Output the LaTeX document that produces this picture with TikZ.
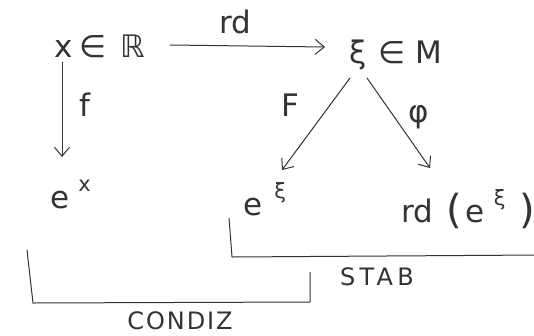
\documentclass[tikz,border=0pt]{standalone}
\usepackage{fontspec}
\setmainfont{DejaVu Sans}
\newfontfamily\stabfont[LetterSpace=18]{DejaVu Sans}
\newfontfamily\condfont[LetterSpace=8]{DejaVu Sans}
\usetikzlibrary{arrows.meta,calc}
\definecolor{pen}{HTML}{333333}
\newcommand{\supsc}[2]{\raisebox{#1}{\fontsize{21}{21}\selectfont #2}}
\newcommand{\bigpar}[1]{\raisebox{-1pt}{\fontsize{40}{40}\selectfont #1}}
\begin{document}
\begin{tikzpicture}[x=1pt,y=-1pt,
  pencil/.style={draw=pen, line width=1pt, line cap=round, line join=round},
  arr/.style={pencil, -{Straight Barb[length=9pt,width=15pt,line width=1pt]}},
  lbl/.style={font=\fontsize{31}{33}\selectfont, text=pen, inner sep=0pt},
  captxt/.style={font=\fontsize{24}{26}\selectfont, text=pen, inner sep=0pt}]
\useasboundingbox (0,0) rectangle (534,335);
% objects
\node[lbl, anchor=base west] (xR) at (54,57) {x\hspace{7pt}∈\hspace{14pt}ℝ};
\node[lbl, anchor=base west] (xiM) at (349,63) {ξ\hspace{12pt}∈\hspace{10pt}M};
\node[lbl, anchor=base west] (ex) at (50,208) {e\hspace{9pt}\supsc{17pt}{x}};
\node[lbl, anchor=base west] (exi) at (243,215) {e\hspace{12pt}\supsc{17pt}{ξ}};
\node[lbl, anchor=base west] (rde) at (401,222) {rd\hspace{13pt}\bigpar{(}\hspace{4pt}e\hspace{9pt}\supsc{17pt}{ξ}\hspace{14pt}\bigpar{)}};
% arrows
\draw[arr] ($(xR.base west)+(116,-12)$) -- ($(xiM.base west)+(-24,-16)$);
\draw[arr] ($(xR.base west)+(8,5)$) -- ($(ex.base west)+(12,-51)$);
\draw[arr] ($(xiM.base west)+(1,15)$) -- ($(exi.base west)+(39,-45)$);
\draw[arr] ($(xiM.base west)+(18,15)$) -- ($(rde.base west)+(29,-54)$);
% arrow labels
\node[lbl] (lrd) at (235,22) {rd};
\node[lbl] (lf) at (85,105) {f};
\node[lbl] (lF) at (290,105) {F};
\node[lbl] (lphi) at (419,117) {φ};
% brackets
\draw[pencil] (229,218) -- (232,257) -- (540,255);
\draw[pencil] (27,250) -- (33,303) -- (310,302) -- (310,272);
\node[captxt] (stab) at (377,277) {\stabfont STAB};
\node[captxt] (condiz) at (180,321) {\condfont CONDIZ};
\end{tikzpicture}
\end{document}
